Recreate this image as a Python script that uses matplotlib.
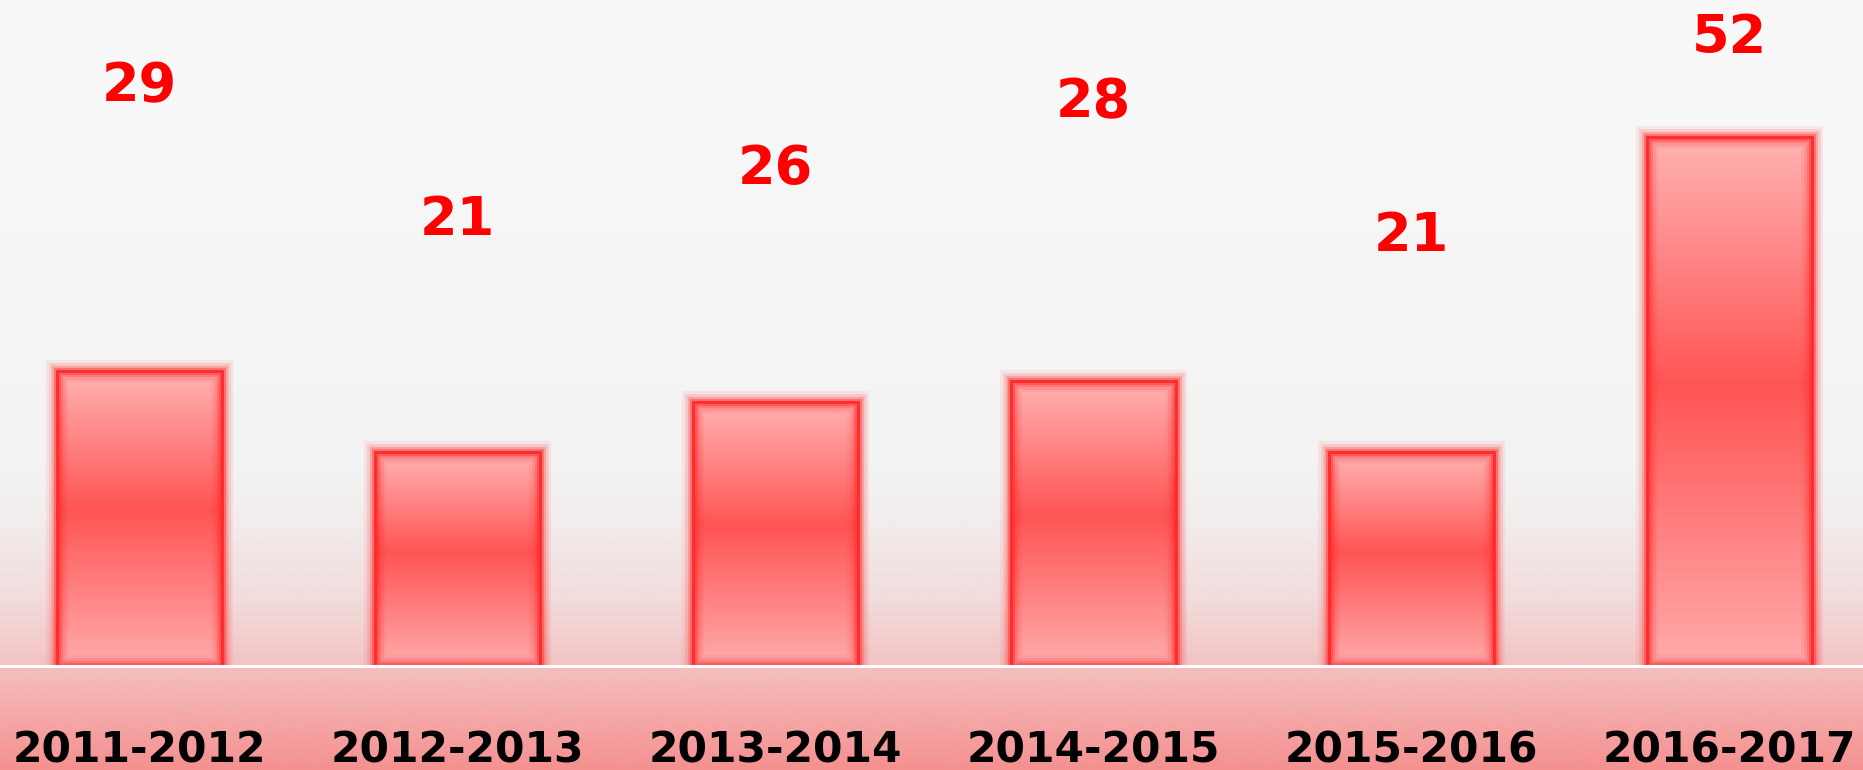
import numpy as np
import matplotlib
matplotlib.use("Agg")
import matplotlib.pyplot as plt
import matplotlib.patheffects as pe
from matplotlib.colors import to_rgb

# ---- data ----
categories = ["2011-2012", "2012-2013", "2013-2014", "2014-2015", "2015-2016", "2016-2017"]
values = [29, 21, 26, 28, 21, 52]
value_label_y = [57.4, 44.3, 49.3, 55.9, 42.7, 62.2]   # where the value labels float
category_label_y = -8.0

# ---- layout ----
W, H, DPI = 1863, 770, 100
fig = plt.figure(figsize=(W / DPI, H / DPI), dpi=DPI)
ax = fig.add_axes([0, 0, 1, 1])
ax.axis("off")

px_per_unit = 10.17
baseline_px = 666
ymin = -(H - baseline_px) / px_per_unit
ymax = baseline_px / px_per_unit
spacing_px = 318.0
first_center_px = 139.5
xmin = -first_center_px / spacing_px
xmax = (W - first_center_px) / spacing_px
ax.set_xlim(xmin, xmax)
ax.set_ylim(ymin, ymax)


def vgrad(stops, n=400):
    """stops: list of (pos 0..1 from top, color). returns n x 1 x 3 array"""
    pos = np.array([s[0] for s in stops])
    cols = np.array([to_rgb(s[1]) for s in stops])
    t = np.linspace(0, 1, n)
    arr = np.stack([np.interp(t, pos, cols[:, k]) for k in range(3)], axis=-1)
    return arr[:, None, :]


# background above baseline
bg_top = vgrad([(0.0, "#f9f9f9"), (0.70, "#f3f3f3"), (0.78, "#f2eded"),
                (0.90, "#f2dcdc"), (1.0, "#f3c3c3")])
ax.imshow(bg_top, extent=(xmin, xmax, 0, ymax), aspect="auto", zorder=0,
          interpolation="bilinear")

# bars
x = np.arange(len(categories))
bar_w = 0.52
bars = ax.bar(x, values, width=bar_w, color="none", edgecolor="#ff2a2a",
              linewidth=2.0, zorder=3)
bar_grad = vgrad([(0.0, "#ffb3b3"), (0.47, "#ff5454"), (1.0, "#ffabab")])
for b in bars:
    x0, y0 = b.get_x(), b.get_y()
    im = ax.imshow(bar_grad, extent=(x0, x0 + b.get_width(), y0, y0 + b.get_height()),
                   aspect="auto", zorder=2, interpolation="bilinear")
    im.set_clip_path(b)
    b.set_path_effects([
        pe.Stroke(linewidth=16, foreground="#ff2a2a", alpha=0.08),
        pe.Stroke(linewidth=12, foreground="#ff2a2a", alpha=0.14),
        pe.Stroke(linewidth=8, foreground="#ff2a2a", alpha=0.24),
        pe.Stroke(linewidth=5, foreground="#ff2a2a", alpha=0.40),
        pe.Normal(),
    ])

ax.set_xlim(xmin, xmax)
ax.set_ylim(ymin, ymax)

# lower band below baseline
band = vgrad([(0.0, "#f5bebe"), (1.0, "#f59090")])
ax.imshow(band, extent=(xmin, xmax, ymin, -0.25), aspect="auto", zorder=4,
          interpolation="bilinear")
ax.axhline(0.0, color="white", linewidth=2.2, zorder=5)

# value labels
for xi, v, ly in zip(x, values, value_label_y):
    ax.annotate(str(v), (xi, ly), xytext=(0, -14), textcoords="offset points",
                ha="center", va="baseline", fontsize=39, fontweight="bold",
                color="#ff0000", family="DejaVu Sans", zorder=6)

# category labels
for xi, c in zip(x, categories):
    ax.annotate(c, (xi, category_label_y), xytext=(0, -11), textcoords="offset points",
                ha="center", va="baseline", fontsize=30.5, fontweight="bold",
                color="black", family="DejaVu Sans", zorder=6, annotation_clip=False)

ax.set_xlim(xmin, xmax)
ax.set_ylim(ymin, ymax)
fig.savefig("out.png", dpi=DPI)
